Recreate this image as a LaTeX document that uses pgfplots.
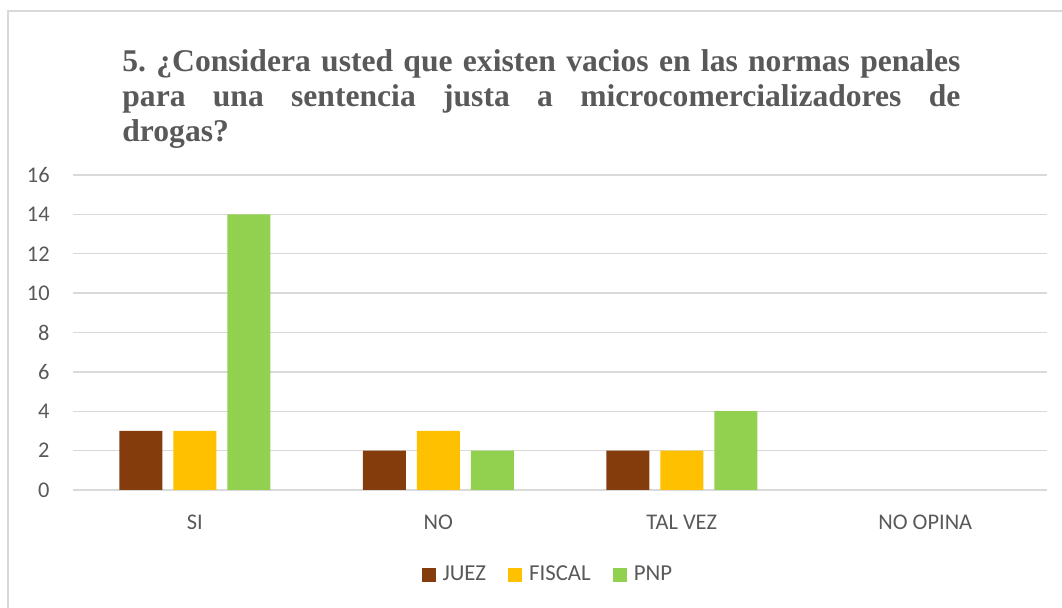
\documentclass[border=0pt]{standalone}
\usepackage{pgfplots}
\pgfplotsset{compat=1.18}
\usepackage{fontspec}
\setmainfont{Carlito}
\newfontfamily\titlefont{Liberation Serif}
\definecolor{juez}{HTML}{843C0C}
\definecolor{fiscal}{HTML}{FFC000}
\definecolor{pnp}{HTML}{92D050}
\definecolor{gridgray}{HTML}{D9D9D9}
\definecolor{txtgray}{HTML}{595959}
\begin{document}
\begin{tikzpicture}[x=1pt,y=1pt]
\useasboundingbox (0,0) rectangle (531,304);
\draw[color=gridgray, line width=0.8pt] (4,-5) -- (4,298.5) -- (540,298.5);
\node[anchor=base west, inner sep=0pt, text=txtgray] at (61,268.2)
  {\parbox[t]{419pt}{\frenchspacing\titlefont\bfseries\fontsize{15.8}{17.5}\selectfont
  5. ¿Considera usted que existen vacios en las normas penales\linebreak
  para una sentencia justa a microcomercializadores de\linebreak drogas?}};
\begin{axis}[
  at={(36.5pt,59pt)}, anchor=south west,
  scale only axis, width=487pt, height=157.5pt,
  ybar=5.5pt, bar width=21.5pt,
  xmin=-0.5, xmax=3.5, ymin=0, ymax=16,
  xtick={0,1,2,3}, xticklabels={SI,NO,TAL VEZ,NO OPINA},
  ytick={0,2,...,16},
  axis line style={draw=none},
  major tick length=0pt,
  ymajorgrids, grid style={gridgray, line width=0.7pt},
  /pgf/number format/assume math mode=true,
  tick label style={font=\fontsize{11.2}{13}\selectfont, text=txtgray},
  yticklabel style={anchor=east, inner sep=0pt, xshift=-11.5pt},
  xticklabel style={anchor=north, inner sep=0pt, yshift=-12.5pt},
  legend style={at={(0.4885,-0.2698)}, anchor=center, draw=none,
    font=\fontsize{11.4}{13}\selectfont, text=txtgray,
    /tikz/every even column/.append style={column sep=9pt},
    inner sep=0pt},
  legend columns=-1,
  legend image code/.code={\path[#1, draw=none] (0pt,-3.5pt) rectangle (7pt,3.5pt);},
  legend cell align=left,
]
\addplot[fill=juez, draw=none] coordinates {(0,3) (1,2) (2,2)};
\addplot[fill=fiscal, draw=none] coordinates {(0,3) (1,3) (2,2)};
\addplot[fill=pnp, draw=none] coordinates {(0,14) (1,2) (2,4)};
\legend{\hspace{1.5pt}JUEZ,\hspace{1.5pt}FISCAL,\hspace{1.5pt}PNP}
\end{axis}
\end{tikzpicture}
\end{document}
